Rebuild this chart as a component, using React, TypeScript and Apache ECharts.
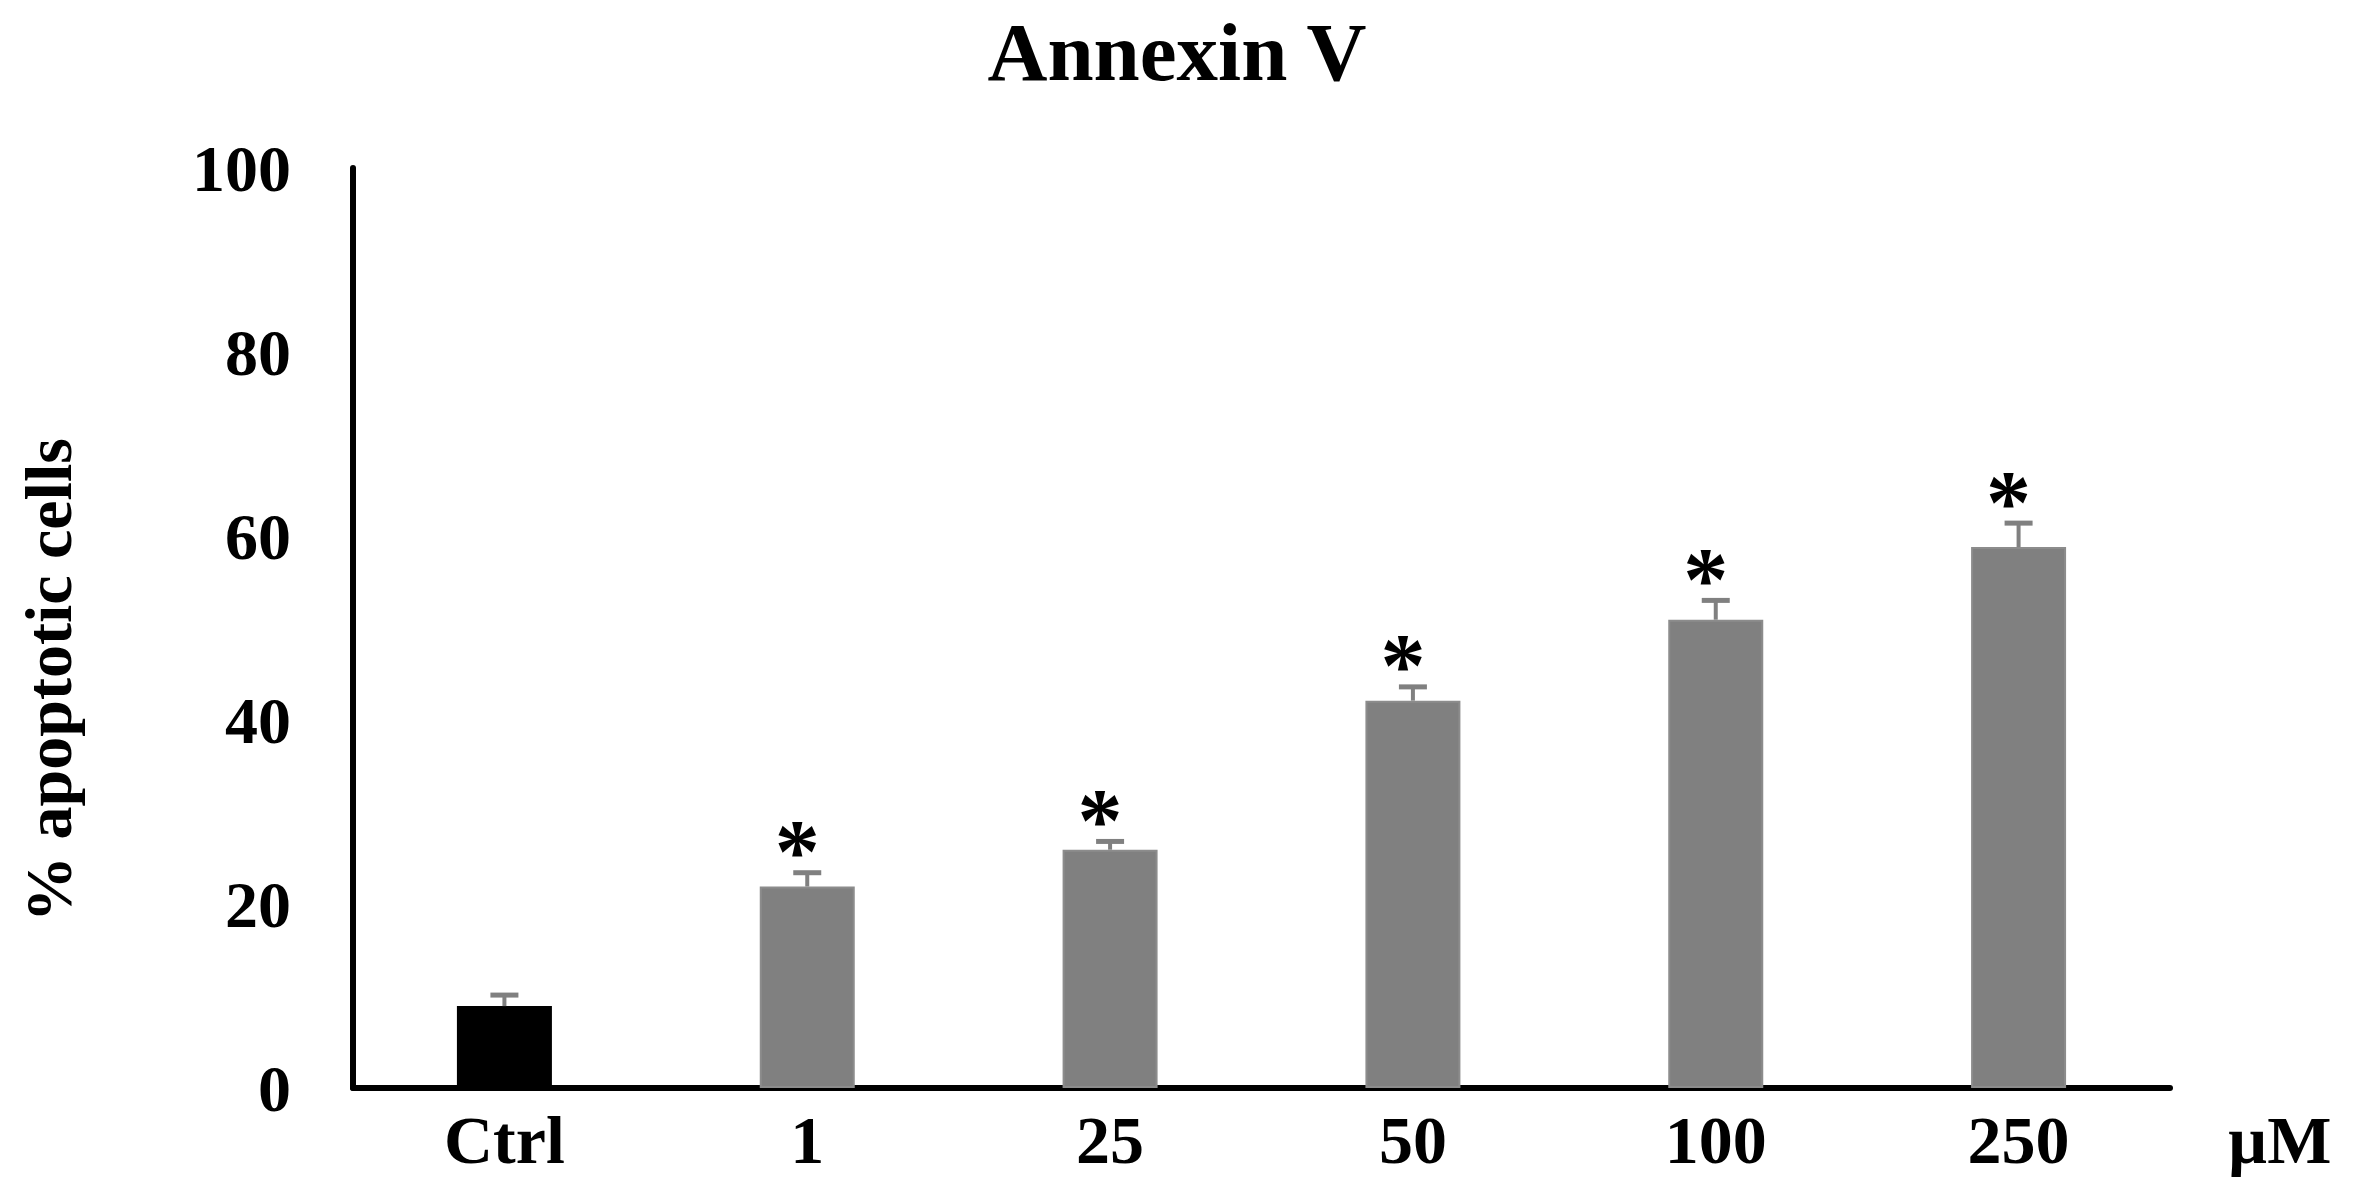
import React, { useEffect, useRef } from "react";
import * as echarts from "echarts";

const categories = ["Ctrl", "1", "25", "50", "100", "250"];
const meanValues = [8.9, 21.9, 25.9, 42.1, 50.9, 58.8];
const errorValues = [1.2, 1.5, 0.9, 1.5, 2.1, 2.6];
const significant = [false, true, true, true, true, true];
const barColors = ["#000000", "#808080", "#808080", "#808080", "#808080", "#808080"];
const yMin = 0;
const yMax = 100;
const yStep = 20;
const titleText = "Annexin V";
const yAxisTitle = "% apoptotic cells";
const unitText = "µM";

const FONT = "'Liberation Serif', 'Times New Roman', serif";

export default function App() {
  const ref = useRef<HTMLDivElement>(null);
  useEffect(() => {
    if (!ref.current) return;
    const chart = echarts.init(ref.current, null, { renderer: "svg" });
    const errData = categories.map((c, i) => [i, meanValues[i], errorValues[i]]);
    const starData = categories
      .map((c, i) => [i, meanValues[i], errorValues[i], significant[i] ? 1 : 0])
      .filter((d) => d[3] === 1);
    chart.setOption({
      animation: false,
      backgroundColor: "#ffffff",
      title: {
        text: titleText,
        left: "center",
        top: 5,
        textStyle: { fontFamily: FONT, fontWeight: "bold", fontSize: 83, color: "#000" },
      },
      grid: { left: 353, right: 184, top: 168, bottom: 107 },
      xAxis: {
        type: "category",
        data: categories,
        axisTick: { show: false },
        axisLine: { lineStyle: { color: "#000", width: 6 } },
        axisLabel: { fontFamily: FONT, fontWeight: "bold", fontSize: 68, color: "#000", margin: 18 },
      },
      yAxis: {
        type: "value",
        min: yMin,
        max: yMax,
        interval: yStep,
        axisLine: { show: true, lineStyle: { color: "#000", width: 6 } },
        axisTick: { show: false },
        splitLine: { show: false },
        axisLabel: {
          fontFamily: FONT,
          fontWeight: "bold",
          fontSize: 66,
          color: "#000",
          margin: 62,
          padding: [20, 0, 0, 0],
        },
      },
      graphic: [
        {
          type: "text",
          x: 48,
          y: 680,
          rotation: Math.PI / 2,
          style: {
            text: yAxisTitle,
            fontFamily: FONT,
            fontWeight: "bold",
            fontSize: 66,
            fill: "#000",
            align: "center",
            verticalAlign: "middle",
          },
        },
        {
          type: "text",
          left: 2228,
          top: 1106,
          style: { text: unitText, fontFamily: FONT, fontWeight: "bold", fontSize: 68, fill: "#000" },
        },
      ],
      series: [
        {
          type: "bar",
          barWidth: 95,
          data: meanValues.map((v, i) => ({
            value: v,
            itemStyle: { color: barColors[i], borderColor: i === 0 ? "#000" : "#8c8c8c", borderWidth: 2 },
          })),
          z: 2,
        },
        {
          type: "custom",
          data: errData,
          z: 3,
          renderItem: (params: any, api: any) => {
            const i = api.value(0);
            const v = api.value(1);
            const e = api.value(2);
            const top = api.coord([i, v + e]);
            const base = api.coord([i, v]);
            return {
              type: "group",
              children: [
                {
                  type: "line",
                  shape: { x1: top[0], y1: base[1], x2: top[0], y2: top[1] },
                  style: { stroke: "#808080", lineWidth: 4 },
                },
                {
                  type: "line",
                  shape: { x1: top[0] - 14, y1: top[1], x2: top[0] + 14, y2: top[1] },
                  style: { stroke: "#808080", lineWidth: 5 },
                },
              ],
            };
          },
        },
        {
          type: "custom",
          data: starData,
          z: 4,
          renderItem: (params: any, api: any) => {
            const i = api.value(0);
            const v = api.value(1);
            const e = api.value(2);
            const top = api.coord([i, v + e]);
            return {
              type: "text",
              x: top[0] - 10,
              y: top[1] - 21,
              style: {
                text: "*",
                fontFamily: FONT,
                fontWeight: "bold",
                fontSize: 90,
                fill: "#000",
                align: "center",
                verticalAlign: "middle",
              },
            };
          },
        },
      ],
    });
    return () => chart.dispose();
  }, []);
  return (
    <div
      ref={ref}
      style={{ position: "fixed", left: 0, top: 0, width: 2354, height: 1195, background: "#fff" }}
    />
  );
}
